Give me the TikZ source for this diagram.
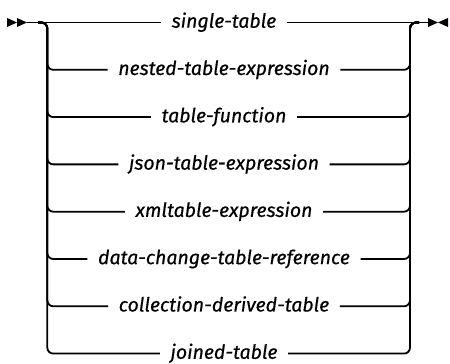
\documentclass[tikz,border=0pt]{standalone}
\usepackage{fontspec}
\setmainfont{Fira Sans}
\newfontfamily\lblfont{Fira Sans}[FakeBold=0.5]
\usetikzlibrary{calc}
\begin{document}
\begin{tikzpicture}[x=1pt,y=1pt,
  rail/.style={line width=1.8pt, rounded corners=6pt},
  lbl/.style={font=\fontsize{19.5}{22}\lblfont\itshape, inner xsep=10.5pt, inner ysep=0pt, anchor=base},
  tip/.style={fill=black, draw=none}]
\useasboundingbox (0,0) rectangle (450,364);
\def\xc{224}
\def\ytop{341.5}
% rows
\foreach \i/\t in {1/single-table,2/nested-table-expression,3/table-function,4/json-table-expression,5/xmltable-expression,6/data-change-table-reference,7/collection-derived-table,8/joined-table}{
  \pgfmathsetmacro\yy{\ytop-47.3*(\i-1)}
  \coordinate (r\i) at (\xc,\yy);
  \node[lbl] (t\i) at (\xc,\yy-5.2) {\t};
  \coordinate (L\i) at (47.3,\yy);
  \coordinate (R\i) at (410,\yy);
}
\coordinate (s0) at (7,\ytop);
\coordinate (s1) at (17,\ytop);
\coordinate (s2) at (27,\ytop);
\coordinate (e0) at (428,\ytop);
\coordinate (e1) at (438,\ytop);
\coordinate (e2) at (448,\ytop);
% start / end tips
\fill[tip] ($(s0)+(0,4.5)$) -- (s1) -- ($(s0)+(0,-4.5)$) -- cycle;
\fill[tip] ($(s1)+(0,4.5)$) -- (s2) -- ($(s1)+(0,-4.5)$) -- cycle;
\fill[tip] ($(e0)+(0,4.5)$) -- (e1) -- ($(e0)+(0,-4.5)$) -- cycle;
\fill[tip] ($(e2)+(0,4.5)$) -- (e1) -- ($(e2)+(0,-4.5)$) -- cycle;
% main line
\draw[rail] (s2) -- (t1.west |- r1);
\draw[rail] (t1.east |- r1) -- (e0);
% branches
\foreach \i in {2,...,8}{
  \draw[rail] (38,\ytop) -- (L1) -- (L\i) -- (t\i.west |- r\i);
  \draw[rail] (t\i.east |- r\i) -- (R\i) -- (R1) -- (419,\ytop);
}
\end{tikzpicture}
\end{document}
